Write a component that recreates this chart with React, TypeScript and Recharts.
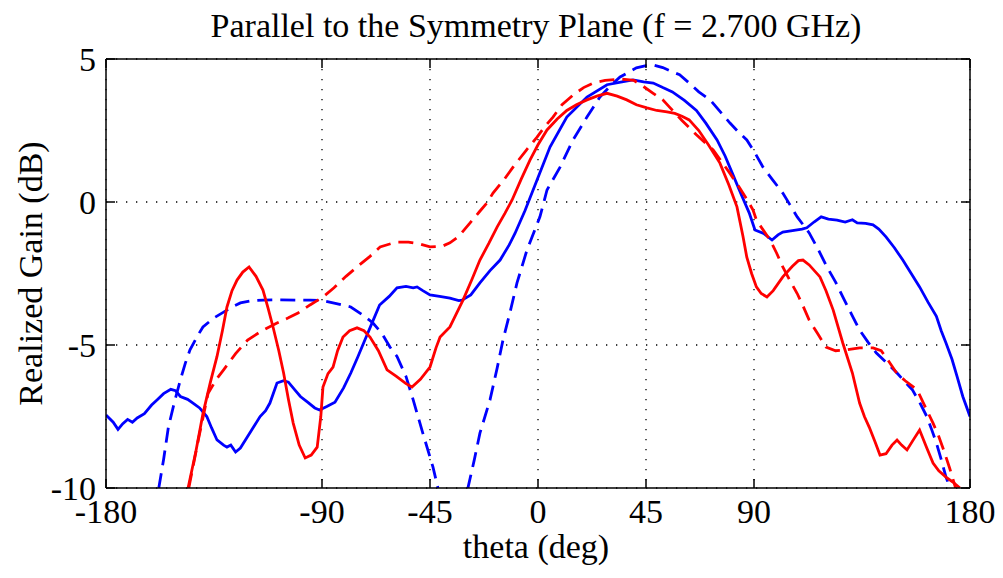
import React from 'react';
import { LineChart, Line, XAxis, YAxis, CartesianGrid, Label } from 'recharts';

// Axis ticks
const thetaTicks = [-180, -90, -45, 0, 45, 90, 180];
const gainTicks = [-10, -5, 0, 5];

type Pt = [number, number];

// Measured gain, blue
const blueMeasured: Pt[] = [
  [-180, -7.45], [-177, -7.7], [-175, -7.95], [-173, -7.75], [-171, -7.6], [-169, -7.7], [-167, -7.55],
  [-164, -7.4], [-161, -7.1], [-158.75, -6.92], [-156, -6.7], [-153, -6.55], [-151, -6.6], [-149, -6.8],
  [-146, -6.9], [-143.75, -7.03], [-141, -7.2], [-138, -7.5], [-136, -7.9], [-133.75, -8.32], [-131, -8.5],
  [-129.6, -8.57], [-128, -8.5], [-126, -8.74], [-124, -8.6], [-121, -8.2], [-118, -7.8], [-115.8, -7.5],
  [-113.5, -7.3], [-111.7, -7.03], [-108.75, -6.33], [-106, -6.25], [-104, -6.3], [-101.5, -6.55],
  [-99, -6.8], [-96, -7.0], [-93, -7.2], [-91, -7.27], [-88, -7.15], [-84.6, -7.0], [-81, -6.5],
  [-78, -5.98], [-75, -5.4], [-72, -4.8], [-69, -4.2], [-66, -3.6], [-62, -3.3], [-58.75, -3.0],
  [-55, -2.95], [-52, -3.0], [-50.4, -2.97], [-48, -3.1], [-45, -3.25], [-41, -3.3], [-36.7, -3.36],
  [-33, -3.45], [-31.7, -3.43], [-28, -3.25], [-24.2, -2.83], [-20, -2.4], [-15.8, -2.03], [-12, -1.5],
  [-9.6, -1.1], [-5.4, -0.3], [-0.4, 0.77], [5, 1.92], [12, 2.97], [20.4, 3.67], [28.75, 4.1], [35, 4.2],
  [39.6, 4.27], [44, 4.2], [48, 4.16], [52, 4.0], [56, 3.85], [61, 3.55], [66, 3.2], [70, 2.75],
  [74.6, 2.17], [78, 1.6], [81, 1.0], [84.5, 0.3], [88, -0.38], [90.4, -0.98], [94, -1.1], [97.5, -1.33],
  [100, -1.15], [102, -1.05], [106, -1.0], [110, -0.95], [112, -0.9], [115, -0.7], [118, -0.52],
  [121, -0.6], [124.6, -0.63], [128, -0.7], [131, -0.62], [133, -0.73], [136.5, -0.75], [139.6, -0.8],
  [142, -0.95], [145, -1.22], [148.5, -1.6], [152, -2.03], [155.5, -2.5], [159, -2.97], [162.5, -3.5],
  [166, -4.0], [168, -4.5], [170, -4.93], [172.5, -5.5], [174.6, -6.1], [177, -6.8], [180, -7.5],
];

// Measured gain, red
const redMeasured: Pt[] = [
  [-145.8, -10], [-142.5, -8.7], [-139.6, -7.4], [-136.5, -6.3], [-133.75, -5.4], [-131.5, -4.5],
  [-129.6, -3.67], [-127.5, -3.1], [-125.4, -2.73], [-123, -2.45], [-120.4, -2.27], [-117.5, -2.6],
  [-114.6, -3.08], [-112.5, -3.7], [-110.4, -4.37], [-108, -5.2], [-106, -5.98], [-104, -6.9],
  [-102, -7.73], [-99.5, -8.5], [-97, -8.95], [-94.5, -8.85], [-92, -8.57], [-90.5, -7.5], [-89.6, -6.47],
  [-87.5, -6.0], [-85.4, -5.77], [-83.5, -5.2], [-81.25, -4.72], [-78.5, -4.5], [-75.4, -4.4],
  [-72.5, -4.5], [-70, -4.72], [-66.5, -5.2], [-62.9, -5.87], [-59, -6.1], [-55, -6.35], [-52.5, -6.47],
  [-49, -6.2], [-45, -5.77], [-42.5, -5.1], [-40.8, -4.72], [-36.7, -4.37], [-34, -3.9], [-31.25, -3.43],
  [-27.5, -2.7], [-24.2, -2.03], [-20.5, -1.45], [-17, -0.87], [-13.8, -0.4], [-10.8, 0.07], [-7, 0.8],
  [-3.3, 1.47], [0, 2.0], [3.75, 2.52], [8, 2.9], [12, 3.2], [16, 3.4], [20.4, 3.57], [24.5, 3.7],
  [28.75, 3.8], [33, 3.7], [37, 3.57], [41, 3.4], [45.4, 3.29], [49.5, 3.2], [53.75, 3.15], [57, 3.1],
  [60, 3.0], [63, 2.87], [67, 2.5], [71, 2.0], [75.8, 1.36], [79.5, 0.6], [82.9, -0.17], [85.4, -1.2],
  [87, -1.93], [89, -2.5], [91, -2.97], [93, -3.2], [95.4, -3.32], [98, -3.1], [102, -2.62], [106, -2.25],
  [108.5, -2.05], [110.4, -2.03], [113, -2.2], [117.5, -2.62], [120, -3.1], [123, -3.78], [127, -4.93],
  [131, -5.98], [134, -7.03], [136, -7.5], [138, -7.87], [140.5, -8.4], [142.5, -8.85], [145, -8.8],
  [147.5, -8.5], [149.6, -8.32], [151.5, -8.5], [153.75, -8.67], [156.5, -8.3], [159, -7.97], [162, -8.6],
  [164.6, -9.13], [167, -9.4], [170, -9.62], [173, -9.8], [175.8, -10],
];

// Simulated gain, blue (deep null near -35 deg)
const blueSimulated: Pt[] = [
  [-158, -10], [-156, -9.0], [-154, -7.87], [-151.5, -7.0], [-149, -6.22], [-147, -5.65], [-145, -5.17],
  [-142, -4.7], [-139.6, -4.37], [-135, -4.05], [-131, -3.85], [-127, -3.65], [-124, -3.53], [-119, -3.45],
  [-114.6, -3.43], [-107, -3.42], [-100, -3.43], [-95, -3.43], [-89.6, -3.45], [-84, -3.55], [-78, -3.67],
  [-73, -3.95], [-68.75, -4.23], [-65, -4.6], [-61.7, -5.07], [-58.75, -5.4], [-55, -6.1], [-52, -6.92],
  [-48, -8.08], [-43.75, -9.27], [-41.7, -10], [-38, -13], [-35, -16], [-32, -13], [-29.2, -10],
  [-26.5, -9.0], [-24.2, -8.08], [-20, -6.92], [-17, -5.8], [-14.6, -4.83], [-11.5, -3.8], [-8.75, -2.83],
  [-4.6, -1.68], [0.8, -0.52], [3.75, 0.42], [9.2, 1.22], [14.6, 2.17], [20.4, 2.97], [25.8, 3.67],
  [30, 4.05], [34.2, 4.37], [41, 4.69], [45, 4.77], [48, 4.79], [52, 4.7], [56, 4.55], [59, 4.45],
  [63, 4.16], [67, 3.85], [71.7, 3.57], [76, 3.15], [80, 2.76], [83.5, 2.45], [87, 2.17], [90.5, 1.7],
  [93.75, 1.22], [98, 0.75], [102, 0.31], [105, -0.1], [108, -0.52], [113, -1.08], [117, -1.7],
  [120.4, -2.27], [124, -2.8], [127, -3.32], [130.5, -3.9], [134, -4.48], [137.5, -4.9], [141, -5.28],
  [145, -5.6], [149.6, -5.98], [153, -6.3], [156, -6.57], [159, -7.0], [162, -7.5], [164, -7.95],
  [166, -8.43], [168, -9.0], [170, -9.62], [171.7, -10],
];

// Simulated gain, red
const redSimulated: Pt[] = [
  [-145.5, -10], [-141.5, -8.3], [-137.5, -6.7], [-134, -6.2], [-131, -5.87], [-126, -5.3], [-121, -4.83],
  [-115, -4.5], [-108.75, -4.23], [-104, -4.05], [-100, -3.88], [-95, -3.6], [-89.6, -3.32], [-85, -3.0],
  [-80, -2.6], [-75.4, -2.27], [-70, -1.9], [-65.8, -1.57], [-61, -1.45], [-58.75, -1.4], [-54, -1.4],
  [-50, -1.45], [-45, -1.57], [-40, -1.55], [-36.7, -1.43], [-33, -1.2], [-28.3, -0.73], [-24.5, -0.35],
  [-21.25, -0.03], [-18.75, 0.31], [-14, 0.8], [-10.4, 1.22], [-5, 1.8], [-0.4, 2.27], [3, 2.65],
  [6.25, 2.97], [10, 3.4], [14.6, 3.74], [19, 4.0], [23, 4.16], [28, 4.25], [34.2, 4.3], [40, 4.25],
  [43.75, 4.05], [48, 3.8], [52, 3.57], [55, 3.3], [60, 2.85], [66, 2.35], [73, 1.82], [80, 1.0], [84, 0.5],
  [87, 0.1], [89.6, -0.28], [91, -0.63], [94, -1.0], [96.7, -1.33], [99.5, -1.8], [102, -2.27],
  [105, -2.75], [108, -3.2], [110.5, -3.65], [113, -4.13], [116.5, -4.6], [120, -5.07], [124, -5.2],
  [128.75, -5.17], [134, -5.1], [139.6, -5.1], [143, -5.2], [146, -5.55], [149.6, -6.0], [153, -6.25],
  [158, -6.57], [161, -7.1], [164.6, -7.73], [167, -8.2], [169, -8.67], [171.5, -9.3], [174, -10],
];

const toRows = (pts: Pt[]) => pts.map(([theta, gain]) => ({ theta, gain }));

const FONT = "'Liberation Serif', 'Times New Roman', Times, serif";
const FONT_SIZE = 34;
const TICK_LEN = 9;
const AXIS_W = 1.5;
const X_LABEL_GAP = 35;
const Y_LABEL_GAP = 10;
const LINE_W = 2.8;

const BLUE = '#0000ff';
const RED = '#ff0000';

const BottomTick = (props: any) => {
  const { x, y, payload } = props;
  const axisY = y - X_LABEL_GAP;
  return (
    <g>
      <line x1={x} x2={x} y1={axisY} y2={axisY - TICK_LEN} stroke="#000" strokeWidth={AXIS_W} />
      <text x={x} y={y} textAnchor="middle" fontFamily={FONT} fontSize={FONT_SIZE} fill="#000">
        {payload.value}
      </text>
    </g>
  );
};

const TopTick = (props: any) => {
  const { x, y } = props;
  return <line x1={x} x2={x} y1={y} y2={y + TICK_LEN} stroke="#000" strokeWidth={AXIS_W} />;
};

const LeftTick = (props: any) => {
  const { x, y, payload } = props;
  const axisX = x + Y_LABEL_GAP;
  return (
    <g>
      <line x1={axisX} x2={axisX + TICK_LEN} y1={y} y2={y} stroke="#000" strokeWidth={AXIS_W} />
      <text x={x} y={y} dy="0.34em" textAnchor="end" fontFamily={FONT} fontSize={FONT_SIZE} fill="#000">
        {payload.value}
      </text>
    </g>
  );
};

const RightTick = (props: any) => {
  const { x, y } = props;
  return <line x1={x} x2={x - TICK_LEN} y1={y} y2={y} stroke="#000" strokeWidth={AXIS_W} />;
};

const TitleText = (props: any) => {
  const { viewBox } = props;
  return (
    <text
      x={viewBox.x + viewBox.width / 2 - 2}
      y={viewBox.y + viewBox.height - 22}
      textAnchor="middle"
      fontFamily={FONT}
      fontSize={FONT_SIZE}
      fill="#000"
    >
      Parallel to the Symmetry Plane (f = 2.700 GHz)
    </text>
  );
};

const XTitle = (props: any) => {
  const { viewBox } = props;
  return (
    <text
      x={viewBox.x + viewBox.width / 2 - 2}
      y={viewBox.y + 70}
      textAnchor="middle"
      fontFamily={FONT}
      fontSize={FONT_SIZE}
      fill="#000"
    >
      theta (deg)
    </text>
  );
};

const YTitle = (props: any) => {
  const { viewBox } = props;
  const cx = viewBox.x + viewBox.width - 64;
  const cy = viewBox.y + viewBox.height / 2;
  return (
    <text
      x={cx}
      y={cy}
      transform={`rotate(-90, ${cx}, ${cy})`}
      textAnchor="middle"
      fontFamily={FONT}
      fontSize={FONT_SIZE}
      fill="#000"
    >
      Realized Gain (dB)
    </text>
  );
};

export default function App() {
  return (
    <LineChart width={995} height={570} margin={{ top: 41, right: 23, bottom: 10, left: 38 }}>
      <CartesianGrid
        xAxisId="b"
        yAxisId="l"
        stroke="#000"
        strokeWidth={1.3}
        strokeDasharray="1.3 8.7"
      />
      <XAxis
        xAxisId="b"
        dataKey="theta"
        type="number"
        domain={[-180, 180]}
        ticks={thetaTicks}
        interval={0}
        allowDataOverflow
        height={80}
        tickSize={0}
        tickMargin={X_LABEL_GAP}
        tick={<BottomTick />}
        axisLine={{ stroke: '#000', strokeWidth: AXIS_W }}
      >
        <Label content={<XTitle />} />
      </XAxis>
      <XAxis
        xAxisId="t"
        orientation="top"
        dataKey="theta"
        type="number"
        domain={[-180, 180]}
        ticks={thetaTicks}
        interval={0}
        allowDataOverflow
        height={10}
        tickSize={0}
        tickMargin={0}
        tick={<TopTick />}
        axisLine={{ stroke: '#000', strokeWidth: AXIS_W }}
      >
        <Label content={<TitleText />} />
      </XAxis>
      <YAxis
        yAxisId="l"
        type="number"
        domain={[-10, 5]}
        ticks={gainTicks}
        interval={0}
        allowDataOverflow
        width={60}
        tickSize={0}
        tickMargin={Y_LABEL_GAP}
        tick={<LeftTick />}
        axisLine={{ stroke: '#000', strokeWidth: AXIS_W }}
      >
        <Label content={<YTitle />} />
      </YAxis>
      <YAxis
        yAxisId="r"
        orientation="right"
        type="number"
        domain={[-10, 5]}
        ticks={gainTicks}
        interval={0}
        allowDataOverflow
        width={10}
        tickSize={0}
        tickMargin={0}
        tick={<RightTick />}
        axisLine={{ stroke: '#000', strokeWidth: AXIS_W }}
      />
      <Line
        xAxisId="b"
        yAxisId="l"
        data={toRows(blueSimulated)}
        dataKey="gain"
        stroke={BLUE}
        strokeWidth={LINE_W}
        strokeDasharray="15 8"
        dot={false}
        type="linear"
        isAnimationActive={false}
      />
      <Line
        xAxisId="b"
        yAxisId="l"
        data={toRows(blueMeasured)}
        dataKey="gain"
        stroke={BLUE}
        strokeWidth={LINE_W}
        dot={false}
        type="linear"
        isAnimationActive={false}
      />
      <Line
        xAxisId="b"
        yAxisId="l"
        data={toRows(redSimulated)}
        dataKey="gain"
        stroke={RED}
        strokeWidth={LINE_W}
        strokeDasharray="15 8"
        dot={false}
        type="linear"
        isAnimationActive={false}
      />
      <Line
        xAxisId="b"
        yAxisId="l"
        data={toRows(redMeasured)}
        dataKey="gain"
        stroke={RED}
        strokeWidth={LINE_W}
        dot={false}
        type="linear"
        isAnimationActive={false}
      />
    </LineChart>
  );
}
